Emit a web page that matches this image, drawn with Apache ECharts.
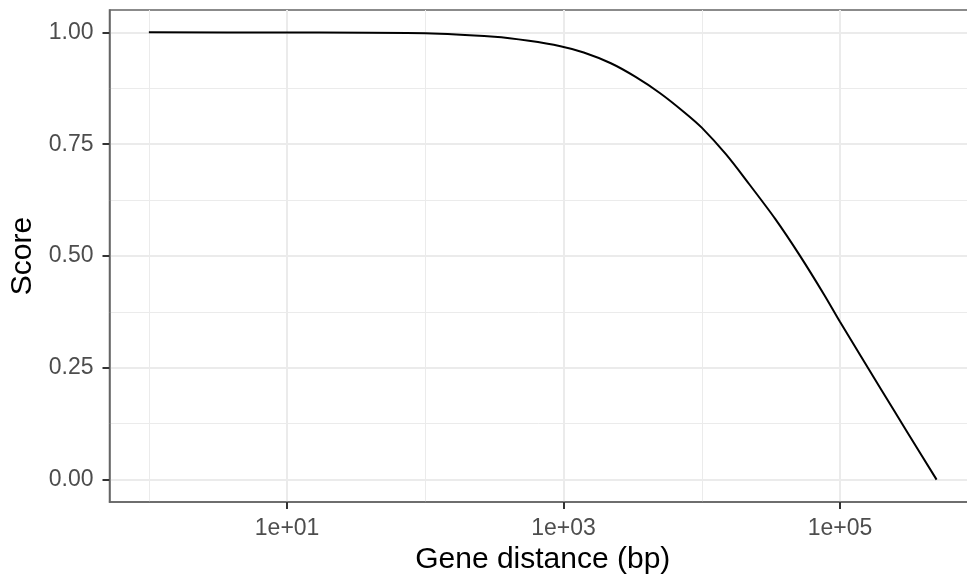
<!DOCTYPE html>
<html>
<head>
<meta charset="utf-8">
<script src="https://cdn.jsdelivr.net/npm/echarts@6/dist/echarts.min.js"></script>
<style>
  html, body { margin: 0; padding: 0; background: #fff; }
  #chart { width: 967px; height: 578px; }
</style>
</head>
<body>
<div id="chart"></div>
<script>
  // gene distance (bp) vs score
  var distances = [1, 10, 100, 316, 562, 950, 1400, 2200, 3300, 5000, 7500, 10000, 15000, 22000, 34000, 51000, 77000, 100000, 200000, 300000, 500000];
  var scores    = [1.000, 0.9997, 0.998, 0.990, 0.981, 0.969, 0.955, 0.931, 0.901, 0.864, 0.821, 0.787, 0.727, 0.661, 0.583, 0.502, 0.413, 0.353, 0.200, 0.111, 0.000];

  var xMajorTicks = [10, 1000, 100000];
  var xMinorTicks = [1, 100, 10000];
  var yMajorTicks = [0, 0.25, 0.5, 0.75, 1];
  var yMinorTicks = [0.125, 0.375, 0.625, 0.875];

  var font = 'Liberation Sans, Arial, Helvetica, sans-serif';
  var gridColor = '#EBEBEB';
  var borderColor = '#666';

  function sciLabel(v) {
    var e = Math.round(Math.log10(v));
    return '1e+' + (e < 10 ? '0' : '') + e;
  }

  var points = distances.map(function (d, i) { return [d, scores[i]]; });

  var xMin = 0.519, xMax = 964000;

  var option = {
    animation: false,
    grid: {
      left: 109.5, top: 10, width: 866.5, height: 492,
      outerBoundsMode: 'none', containLabel: false,
      show: true, borderColor: borderColor, borderWidth: 1.5, backgroundColor: 'transparent'
    },
    xAxis: [{
      type: 'log', logBase: 10, min: xMin, max: xMax, position: 'bottom',
      name: 'Gene distance (bp)', nameLocation: 'middle', nameGap: 35,
      nameTextStyle: { fontFamily: font, fontSize: 30, color: '#000' },
      axisLine: { show: true, onZero: false, lineStyle: { color: borderColor, width: 1.5 } },
      axisTick: { show: true, length: 7, customValues: xMajorTicks, lineStyle: { color: '#333', width: 2 } },
      axisLabel: { customValues: xMajorTicks, formatter: sciLabel, margin: 15, fontFamily: font, fontSize: 23, color: '#4D4D4D' },
      splitLine: { show: true, lineStyle: { color: gridColor, width: 2 } },
      minorTick: { show: false }, minorSplitLine: { show: false }
    }, {
      type: 'log', logBase: 10, min: xMin, max: xMax, gridIndex: 0, position: 'top',
      axisLine: { show: false, onZero: false },
      axisTick: { show: false, customValues: xMinorTicks },
      axisLabel: { show: false, customValues: xMinorTicks },
      splitLine: { show: true, lineStyle: { color: gridColor, width: 1 } }
    }],
    yAxis: [{
      type: 'value', min: -0.05, max: 1.05, position: 'left',
      name: 'Score', nameLocation: 'middle', nameGap: 72, nameRotate: 90,
      nameTextStyle: { fontFamily: font, fontSize: 30, color: '#000' },
      axisLine: { show: true, onZero: false, lineStyle: { color: borderColor, width: 1.5 } },
      axisTick: { show: true, length: 7, customValues: yMajorTicks, lineStyle: { color: '#333', width: 2 } },
      axisLabel: { customValues: yMajorTicks, formatter: function (v) { return v.toFixed(2); }, margin: 16, fontFamily: font, fontSize: 23, color: '#4D4D4D' },
      splitLine: { show: true, lineStyle: { color: gridColor, width: 2 } }
    }, {
      type: 'value', min: -0.05, max: 1.05, gridIndex: 0, position: 'right',
      axisLine: { show: false, onZero: false },
      axisTick: { show: false, customValues: yMinorTicks },
      axisLabel: { show: false, customValues: yMinorTicks },
      splitLine: { show: true, lineStyle: { color: gridColor, width: 1 } }
    }],
    series: [{
      type: 'line',
      data: points,
      showSymbol: false,
      smooth: 0.3,
      lineStyle: { color: '#000', width: 2 },
      z: 5
    }]
  };

  var myChart = echarts.init(document.getElementById('chart'));
  myChart.setOption(option);
</script>
</body>
</html>
